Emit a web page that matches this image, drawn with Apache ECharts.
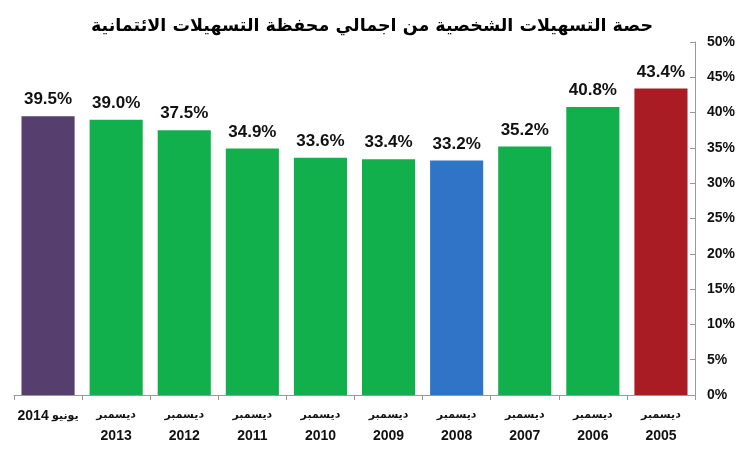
<!DOCTYPE html>
<html><head><meta charset="utf-8">
<script src="https://cdn.jsdelivr.net/npm/echarts@6/dist/echarts.min.js"></script>
<style>html,body{margin:0;padding:0;background:#fff}#c{width:749px;height:450px}</style>
</head><body><div id="c"></div>
<script>
var titleText = 'حصة التسهيلات الشخصية من اجمالي محفظة التسهيلات الائتمانية';
var categories = ['يونيو 2014','ديسمبر\n2013','ديسمبر\n2012','ديسمبر\n2011','ديسمبر\n2010','ديسمبر\n2009','ديسمبر\n2008','ديسمبر\n2007','ديسمبر\n2006','ديسمبر\n2005'];
var values = [39.5, 39.0, 37.5, 34.9, 33.6, 33.4, 33.2, 35.2, 40.8, 43.4];
var colors = ['#563f6e','#12b04c','#12b04c','#12b04c','#12b04c','#12b04c','#2f74c6','#12b04c','#12b04c','#a91c24'];
var chart = echarts.init(document.getElementById('c'));
chart.setOption({
  animation:false,
  title:{text:titleText,left:367,top:12,textAlign:'center',textStyle:{fontFamily:'DejaVu Sans',fontWeight:'bold',fontSize:17.5,color:'#000'}},
  grid:{left:14,right:54,top:42,bottom:55},
  xAxis:{type:'category',data:categories,
    axisLine:{lineStyle:{color:'#999'}},
    axisTick:{show:true,length:5,lineStyle:{color:'#999'}},
    axisLabel:{interval:0,margin:10,
      formatter:function(v){var p=v.split('\n'); if(p.length===1){var q=v.split(' '); return '{y|'+q[1]+'} {a|'+q[0]+'}';} return '{a|'+p[0]+'}\n{y|'+p[1]+'}';},
      rich:{a:{color:'#111',fontFamily:'DejaVu Sans',fontWeight:'bold',fontSize:11,lineHeight:20},
            y:{color:'#111',fontFamily:'Liberation Sans',fontWeight:'bold',fontSize:14,lineHeight:22}}}},
  yAxis:{type:'value',position:'right',min:0,max:50,interval:5,
    axisLine:{show:true,lineStyle:{color:'#999'}},
    axisTick:{show:true,inside:true,length:5,lineStyle:{color:'#999'}},
    splitLine:{show:false},
    axisLabel:{formatter:'{value}%',color:'#111',fontFamily:'Liberation Sans',fontWeight:'bold',fontSize:14,margin:12}},
  series:[{type:'bar',barWidth:'78%',
    data:values.map(function(v,i){return {value:v,itemStyle:{color:colors[i]}};}),
    label:{show:true,position:'top',distance:8,formatter:function(p){return p.value.toFixed(1)+'%';},
      color:'#111',fontFamily:'Liberation Sans',fontWeight:'bold',fontSize:17}}]
});
</script></body></html>
